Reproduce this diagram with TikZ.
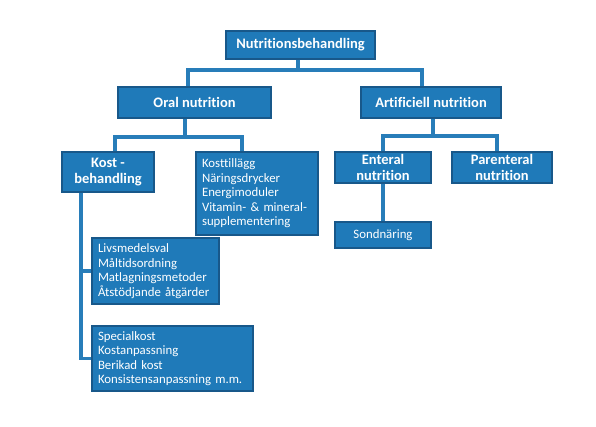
\documentclass[tikz,border=0pt]{standalone}
\usepackage{fontspec}
\setmainfont{Carlito}[Ligatures={NoCommon}]
\usepackage{tikz}
\usetikzlibrary{positioning}

\definecolor{boxblue}{RGB}{31,122,185}
\definecolor{boxedge}{RGB}{24,88,138}
\definecolor{lineblue}{RGB}{40,125,185}

\begin{document}
\begin{tikzpicture}
  [
    x=1pt, y=-1pt,
    box/.style={fill=boxblue, draw=boxedge, line width=1.2pt, text=white,
      inner sep=0pt, align=center, font=\fontsize{14.5}{15.5}\selectfont\bfseries},
    lst/.style={box, align=left, font=\fontsize{12.8}{14.5}\selectfont},
    link/.style={draw=lineblue, line width=3.2pt}
  ]
  \useasboundingbox (0,0) rectangle (596,426);

  \node (top)  at (300.5,45)  [box, minimum width=149pt, minimum height=28pt] {Nutritionsbehandling};
  \node (oral) at (194.5,102.5) [box, minimum width=153pt, minimum height=31pt] {Oral nutrition};
  \node (art)  at (431,102.5) [box, minimum width=140pt, minimum height=31pt] {Artificiell nutrition};

  \node (kost) at (108,172)   [box, minimum width=92pt, minimum height=40pt] {Kost -\\behandling};
  \node (kostt) at (257,193.5) [lst, minimum width=122pt, minimum height=83pt, text width=110pt]
    {Kosttillägg\\Näringsdrycker\\Energimoduler\\Vitamin- \& mineral-\\supplementering};
  \node (ent)  at (383,167.5) [box, minimum width=96pt, minimum height=31pt] {Enteral\\nutrition};
  \node (par)  at (502,167.5) [box, minimum width=100pt, minimum height=31pt] {Parenteral\\nutrition};
  \node (sond) at (383,235)   [lst, minimum width=96pt, minimum height=26pt, align=center] {Sondnäring};

  \node (livs) at (155.5,271) [lst, minimum width=127pt, minimum height=66pt, text width=115pt]
    {Livsmedelsval\\Måltidsordning\\Matlagningsmetoder\\Åtstödjande åtgärder};
  \node (spec) at (172.5,358.5) [lst, minimum width=161pt, minimum height=65pt, text width=149pt]
    {Specialkost\\Kostanpassning\\Berikad kost\\Konsistensanpassning m.m.};

  % bars between levels
  \coordinate (b1) at (298,70);
  \coordinate (b1l) at (188,70);
  \coordinate (b1r) at (422,70);
  \coordinate (b2) at (185,137);
  \coordinate (b2l) at (115,137);
  \coordinate (b2r) at (242,137);
  \coordinate (b3) at (433,136);
  \coordinate (b3l) at (383,136);
  \coordinate (b3r) at (497,136);
  \coordinate (kl) at (81,192);

  \draw [link] (top.south -| b1) -- (b1);
  \draw [link] (oral.north -| b1l) |- (b1r) -- (b1r |- art.north);

  \draw [link] (oral.south -| b2) -- (b2);
  \draw [link] (kost.north -| b2l) |- (b2r) -- (b2r |- kostt.north);

  \draw [link] (art.south -| b3) -- (b3);
  \draw [link] (ent.north -| b3l) |- (b3r) -- (b3r |- par.north);

  \draw [link] (ent.south) -- (sond.north);

  \draw [link] (kost.south -| kl) |- (spec.west);
  \draw [link] (kl |- livs.west) -- (livs.west);
\end{tikzpicture}
\end{document}
